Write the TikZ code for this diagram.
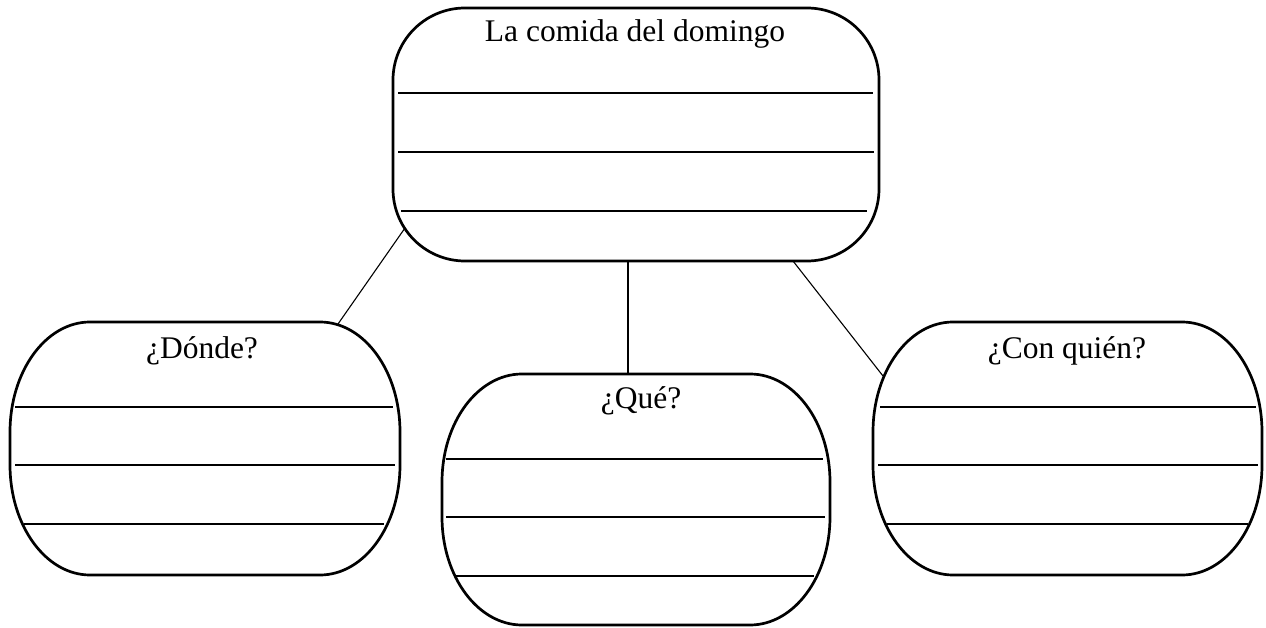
\documentclass[tikz,border=0pt]{standalone}
\usepackage{fontspec}
\setmainfont{Liberation Serif}
\tikzset{
  bubbleline/.style={line width=2.7pt, line join=round},
  writeline/.style={line width=1.5pt},
  connector/.style={line width=1.1pt},
  title/.style={anchor=base, font=\fontsize{31.5}{36}\selectfont, inner sep=0pt},
}
% #1 left, #2 top, #3 right, #4 bottom, #5 corner x radius, #6 corner y radius
\newcommand\mybubble[6]{%
  \draw[bubbleline] ({#1+#5},#2) -- ({#3-#5},#2)
    .. controls ({#3-0.4477*#5},#2) and (#3,{#2+0.4477*#6}) .. (#3,{#2+#6})
    -- (#3,{#4-#6})
    .. controls (#3,{#4-0.4477*#6}) and ({#3-0.4477*#5},#4) .. ({#3-#5},#4)
    -- ({#1+#5},#4)
    .. controls ({#1+0.4477*#5},#4) and (#1,{#4-0.4477*#6}) .. (#1,{#4-#6})
    -- (#1,{#2+#6})
    .. controls (#1,{#2+0.4477*#6}) and ({#1+0.4477*#5},#2) .. cycle;}
\begin{document}
\begin{tikzpicture}[x=1pt, y=-1pt]
\useasboundingbox (0,0) rectangle (1266,628);

% boxes
\mybubble{393}{8}{879}{261}{72}{72}
\mybubble{10}{322}{400}{575}{80}{110}
\mybubble{442}{374}{830}{625}{80}{108}
\mybubble{873}{322}{1262}{575}{80}{110}

% titles
\node[title] (tTop)   at (635,42)  {La comida del domingo};
\node[title] (tWhere) at (202,358) {¿Dónde?};
\node[title] (tWhat)  at (641,408) {¿Qué?};
\node[title] (tWho)   at (1067,358) {¿Con quién?};

% writing lines
\draw[writeline] (398,93) -- (873,93);
\draw[writeline] (398,152) -- (874,152);
\draw[writeline] (401,211) -- (867,211);

\draw[writeline] (15,407) -- (393,407);
\draw[writeline] (15,465) -- (395,465);
\draw[writeline] (24,524) -- (384,524);

\draw[writeline] (446,459) -- (823,459);
\draw[writeline] (446,517) -- (825,517);
\draw[writeline] (454,576) -- (814,576);

\draw[writeline] (880,407) -- (1256,407);
\draw[writeline] (878,465) -- (1258,465);
\draw[writeline] (887,524) -- (1248,524);

% connector end points on the outlines
\coordinate (topL) at (405,228);
\coordinate (topM) at (628,261);
\coordinate (topR) at (793,261);
\coordinate (whereT) at (338,324);
\coordinate (whatT) at (628,374);
\coordinate (whoT) at (883,376);

\draw[connector] (topL) -- (whereT);
\draw[connector] (topM) -- (whatT);
\draw[connector] (topR) -- (whoT);
\end{tikzpicture}
\end{document}
